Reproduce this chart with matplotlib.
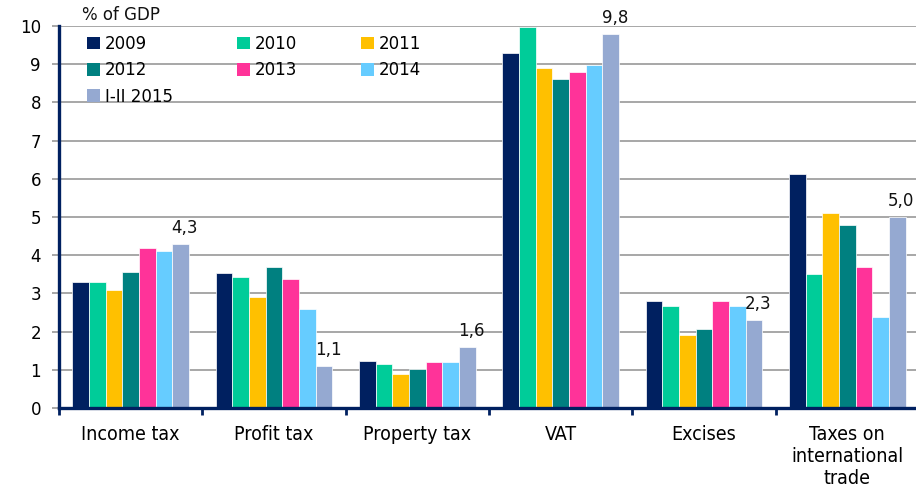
import matplotlib

matplotlib.use("Agg")
import matplotlib.pyplot as plt
from matplotlib.patches import Patch
import numpy as np

NAVY = "#002060"

categories = ["Income tax", "Profit tax", "Property tax", "VAT", "Excises",
              "Taxes on\ninternational\ntrade"]
years = ["2009", "2010", "2011", "2012", "2013", "2014", "I-II 2015"]
colors = ["#002060", "#00CC99", "#FFC000", "#008080", "#FF3399", "#66CCFF", "#95A9D1"]

v2009 = [3.30, 3.53, 1.24, 9.30, 2.79, 6.13]
v2010 = [3.30, 3.43, 1.15, 9.98, 2.66, 3.51]
v2011 = [3.08, 2.90, 0.90, 8.89, 1.91, 5.11]
v2012 = [3.57, 3.70, 1.03, 8.62, 2.07, 4.79]
v2013 = [4.19, 3.39, 1.20, 8.80, 2.79, 3.70]
v2014 = [4.10, 2.59, 1.20, 8.98, 2.66, 2.39]
v2015 = [4.30, 1.10, 1.60, 9.80, 2.30, 5.00]
labels2015 = ["4,3", "1,1", "1,6", "9,8", "2,3", "5,0"]

series = [v2009, v2010, v2011, v2012, v2013, v2014, v2015]

fig = plt.figure(figsize=(9.16, 4.86), dpi=100)
fig.patch.set_facecolor("white")
ax = fig.add_axes([59 / 916, 78 / 486, 860 / 916, 382 / 486])

x = np.arange(len(categories))
n = len(series)
width = 0.116
handles = []
for i, (vals, col, yr) in enumerate(zip(series, colors, years)):
    pos = x + (i - (n - 1) / 2) * width
    ax.bar(pos, vals, width=width, color=col, edgecolor="white", linewidth=0.5, zorder=2)
    handles.append(Patch(facecolor=col, edgecolor="none", label=yr))

# data labels on the latest period
last_pos = x + (n - 1) / 2 * width
for xp, v, lab in zip(last_pos, v2015, labels2015):
    ax.annotate(lab, (xp, v), xytext=(3, 5), textcoords="offset points",
                ha="center", va="bottom", fontsize=12, color="#111111", zorder=4)

ax.set_xlim(-0.5, len(categories) - 0.5)
ax.set_ylim(0, 10)
ax.set_yticks(range(0, 11))
ax.yaxis.grid(True, color="#A0A0A0", linewidth=1.3, zorder=0)
ax.set_axisbelow(True)

ax.set_xticks(np.arange(-0.5, len(categories), 1.0))
ax.set_xticklabels([])
ax.set_xticks(x, minor=True)
ax.set_xticklabels(categories, minor=True, fontstretch="condensed", fontsize=14,
                   linespacing=1.2)
ax.tick_params(axis="x", which="minor", length=0, pad=12)
ax.tick_params(axis="x", which="major", direction="out", length=5, width=2, color=NAVY)
ax.tick_params(axis="y", direction="out", length=5, width=1.3, color="#A0A0A0",
               labelsize=12, pad=8)

for s in ["top", "right"]:
    ax.spines[s].set_visible(False)
for s in ["left", "bottom"]:
    ax.spines[s].set_color(NAVY)
    ax.spines[s].set_linewidth(2.4)
    ax.spines[s].set_zorder(3)

ax.text(0.027, 1.005, "% of GDP", transform=ax.transAxes, fontsize=12,
        ha="left", va="bottom", color="#111111")

order = [0, 3, 6, 1, 4, 2, 5]
leg = ax.legend([handles[i] for i in order], [years[i] for i in order],
                ncol=3, loc="upper left", bbox_to_anchor=(0.015, 1.016),
                frameon=False, fontsize=12, handlelength=0.8, handleheight=0.8,
                handletextpad=0.3, columnspacing=3.8, labelspacing=0.5,
                borderaxespad=0.5)

fig.savefig("out.png", dpi=100, facecolor="white")
